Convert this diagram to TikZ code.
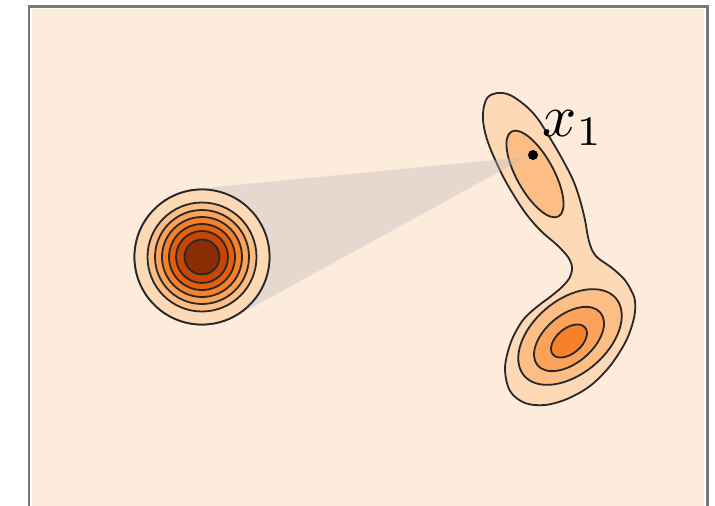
\documentclass[tikz,border=0pt]{standalone}
\usetikzlibrary{calc}
\definecolor{bgc}{RGB}{253,235,220}
\definecolor{rA}{RGB}{253,217,182}
\definecolor{rB}{RGB}{253,190,134}
\definecolor{rC}{RGB}{253,162,91}
\definecolor{rD}{RGB}{247,128,42}
\definecolor{rE}{RGB}{229,95,12}
\definecolor{rF}{RGB}{200,70,3}
\definecolor{rG}{RGB}{138,45,5}
\definecolor{cline}{RGB}{40,40,40}
\definecolor{framec}{RGB}{120,120,120}
\definecolor{wedgec}{RGB}{185,185,185}
\tikzset{
  lvl/.style={draw=cline, line width=1.8pt},
  ring/.style={circle, lvl, inner sep=0pt, minimum size=#1},
}
\begin{document}
\begin{tikzpicture}[x=1pt,y=-1pt]
\useasboundingbox (0,0) rectangle (715,506);
\clip (0,0) rectangle (715,506);
\fill[white] (0,0) rectangle (715,506);
\fill[bgc] (32,9) rectangle (704,520);
\draw[framec, line width=2.5pt] (29,520) -- (29,6.5) -- (707.5,6.5) -- (707.5,520);
% right density blob
\draw[lvl, fill=rA] plot[smooth cycle, tension=0.55] coordinates {
 (497,93) (488,97) (484,106) (483,120) (486,136) (493,155) (506,182) (524,211)
 (540,230) (557,245) (568,257) (572,267) (570,277) (562,287) (550,297) (538,306)
 (523,320) (511,342) (505,368) (510,391) (525,403) (545,405) (567,399) (590,386)
 (610,366) (626,341) (634,318) (635,301) (631,290) (624,279) (612,268) (598,258)
 (592,250) (588,237) (585,220) (580,200) (573,180) (560,155) (540,122) (527,107)
 (510,95)};
\draw[lvl, fill=rB] (535,174) ellipse[x radius=48.5, y radius=18.5, rotate=-61];
\draw[lvl, fill=rB] (570,337) ellipse[x radius=60, y radius=37, rotate=40];
\draw[lvl, fill=rC] (569,339) ellipse[x radius=41, y radius=24, rotate=40];
\draw[lvl, fill=rD] (569,341) ellipse[x radius=21, y radius=12.5, rotate=40];
% left gaussian
\node[ring=135pt, fill=rA] (c1) at (202,257) {};
\coordinate (apex) at (526,157);
\fill[wedgec, opacity=0.35] (apex) -- (tangent cs:node=c1,point={(apex)},solution=1)
  -- (c1.center) -- (tangent cs:node=c1,point={(apex)},solution=2) -- cycle;
\node[ring=135pt, fill=rA] (c1b) at (c1) {};
\node[ring=109pt, fill=rB] (c2) at (c1) {};
\node[ring=94pt, fill=rC] (c3) at (c1) {};
\node[ring=80pt, fill=rD] (c4) at (c1) {};
\node[ring=66pt, fill=rE] (c5) at (c1) {};
\node[ring=52pt, fill=rF] (c6) at (c1) {};
\node[ring=35pt, fill=rG] (c7) at (c1) {};
% point and label
\node[circle, fill=black, inner sep=0pt, minimum size=10pt] (x1) at (533,155) {};
\node[scale=6, inner sep=0pt] (lbl) at (573,128) {$x_1$};
\end{tikzpicture}
\end{document}
